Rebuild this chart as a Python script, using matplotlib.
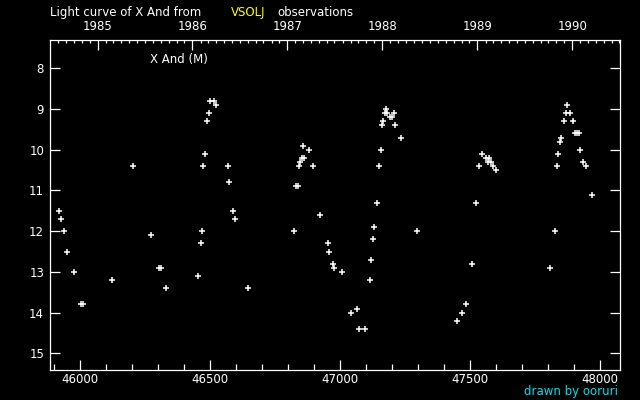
import datetime as dt
import numpy as np
import matplotlib
matplotlib.use("Agg")
import matplotlib.pyplot as plt
from matplotlib.ticker import FixedLocator, NullFormatter

# JD - 2400000 and visual magnitude
jd = [45916.6, 45924.3, 45935.8, 45947.4, 45974.3, 46001.2, 46008.8, 46120.3,
      46203.7, 46270.2, 46300.9, 46308.6, 46327.8, 46450.8, 46462.3, 46466.2,
      46473.8, 46477.7, 46489.2, 46496.9, 46500.7, 46512.3, 46520.0, 46569.9,
      46573.8, 46589.1, 46596.8, 46646.8, 46823.5, 46831.2, 46838.9, 46842.8,
      46846.6, 46854.3, 46862.0, 46858.2, 46881.2, 46896.6, 46923.5, 46954.2,
      46958.1, 46973.4, 46977.3, 47008.0, 47042.6, 47065.7, 47073.3, 47096.4,
      47115.6, 47119.5, 47127.1, 47131.0, 47142.5, 47150.2, 47157.9, 47161.7,
      47165.6, 47173.3, 47180.9, 47177.1, 47192.5, 47200.2, 47207.9, 47211.7,
      47234.8, 47296.2, 47450.0, 47469.2, 47484.6, 47507.6, 47523.0, 47534.5,
      47546.1, 47561.4, 47573.0, 47569.1, 47580.6, 47588.3, 47599.8, 47807.4,
      47826.6, 47834.3, 47838.2, 47845.8, 47849.7, 47861.2, 47868.9, 47884.2,
      47872.7, 47895.8, 47903.4, 47911.1, 47918.8, 47922.6, 47934.2, 47945.7,
      47968.8]
mag = [11.5, 11.7, 12.0, 12.5, 13.0, 13.8, 13.8, 13.2,
       10.4, 12.1, 12.9, 12.9, 13.4, 13.1, 12.3, 12.0,
       10.4, 10.1, 9.3, 9.1, 8.8, 8.8, 8.9, 10.4,
       10.8, 11.5, 11.7, 13.4, 12.0, 10.9, 10.9, 10.4,
       10.3, 10.2, 10.2, 9.9, 10.0, 10.4, 11.6, 12.3,
       12.5, 12.8, 12.9, 13.0, 14.0, 13.9, 14.4, 14.4,
       13.2, 12.7, 12.2, 11.9, 11.3, 10.4, 10.0, 9.4,
       9.3, 9.1, 9.1, 9.0, 9.2, 9.2, 9.1, 9.4,
       9.7, 12.0, 14.2, 14.0, 13.8, 12.8, 11.3, 10.4,
       10.1, 10.2, 10.2, 10.3, 10.3, 10.4, 10.5, 12.9,
       12.0, 10.4, 10.1, 9.8, 9.7, 9.3, 9.1, 9.1,
       8.9, 9.3, 9.6, 9.6, 9.6, 10.0, 10.3, 10.4,
       11.1]

years = [1985, 1986, 1987, 1988, 1989, 1990]
mag_ticks = [8, 9, 10, 11, 12, 13, 14, 15]


def jd_of(d):
    # JD - 2400000 at 0h UT
    return (d - dt.date(1858, 11, 17)).days + 0.5


fg = "white"
plt.rcParams["font.family"] = "DejaVu Sans"
plt.rcParams["font.size"] = 8.5

fig = plt.figure(figsize=(6.4, 4.0), dpi=100, facecolor="black")
ax = fig.add_axes([50.3 / 640, 1 - 370.3 / 400, 570 / 640, 330 / 400])
ax.set_facecolor("black")

ax.plot(jd, mag, linestyle="none", marker="+", color=fg, markersize=3.8, markeredgewidth=1.1)

ax.set_xlim(45884.6, 48076.9)
ax.set_ylim(15.418, 7.312)

for s in ax.spines.values():
    s.set_color(fg)
    s.set_linewidth(0.9)

ax.xaxis.set_major_locator(FixedLocator([46000, 46500, 47000, 47500, 48000]))
ax.xaxis.set_minor_locator(FixedLocator(np.arange(45900, 48100, 100)))
ax.set_yticks(mag_ticks)
ax.tick_params(axis="x", which="major", direction="in", length=7.4, width=0.9,
               colors=fg, pad=1.8, labelsize=8.5)
ax.tick_params(axis="x", which="minor", direction="in", length=4.1, width=0.9, colors=fg)
ax.tick_params(axis="y", which="major", direction="in", length=7.4, width=0.9,
               colors=fg, pad=4.5, labelsize=8.5, right=True)

# top axis: calendar years with monthly minor ticks
top = ax.twiny()
top.set_xlim(ax.get_xlim())
for s in top.spines.values():
    s.set_visible(False)
months = [jd_of(dt.date(y, m, 1)) for y in range(1984, 1991) for m in range(1, 13)]
months = [m for m in months if 45884.6 < m < 48076.9]
top.xaxis.set_major_locator(FixedLocator([jd_of(dt.date(y, 1, 1)) for y in years]))
top.set_xticklabels([str(y) for y in years])
top.xaxis.set_minor_locator(FixedLocator(months))
top.xaxis.set_minor_formatter(NullFormatter())
top.tick_params(axis="x", which="major", direction="in", length=7.4, width=0.9,
                colors=fg, pad=5.0, labelsize=8.5)
top.tick_params(axis="x", which="minor", direction="in", length=2.4, width=0.9, colors=fg)

ax.text(150 / 640, 1 - 60 / 400, "X And (M)", transform=fig.transFigure,
        color=fg, fontsize=8.5, ha="left", va="center")

ty = 1 - 12.5 / 400
fig.text(50 / 640, ty, "Light curve of X And from", color=fg, ha="left", va="center")
fig.text(231 / 640, ty, "VSOLJ", color="#ffff00", ha="left", va="center")
fig.text(277 / 640, ty, "observations", color=fg, ha="left", va="center")
fig.text(618 / 640, 1 - 392 / 400, "drawn by ooruri", color="#00e0f0", ha="right", va="center")

fig.savefig("out.png", dpi=100, facecolor="black")
